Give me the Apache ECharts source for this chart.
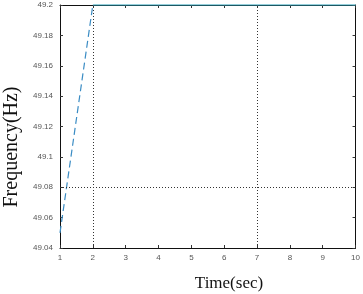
<!DOCTYPE html>
<html>
<head>
<meta charset="utf-8">
<script src="https://cdn.jsdelivr.net/npm/echarts@6/dist/echarts.min.js"></script>
<style>
  html, body { margin: 0; padding: 0; background: #fff; }
  #main { width: 363px; height: 294px; }
</style>
</head>
<body>
<div id="main"></div>
<script>
// data
var rampX = [1, 2];
var rampY = [49.05, 49.2];
var flatX = [2, 10];
var flatY = [49.2, 49.2];
var markX = [2, 7];     // dotted vertical guides
var markY = [49.08];    // dotted horizontal guide
var xTicks = [1, 2, 3, 4, 5, 6, 7, 8, 9, 10];
var yTicks = ['49.04', '49.06', '49.08', '49.1', '49.12', '49.14', '49.16', '49.18', '49.2'];

function pairs(xs, ys) {
  var out = [];
  for (var i = 0; i < xs.length; i++) out.push([xs[i], ys[i]]);
  return out;
}

var lineColor = '#3a8cc4';
var labelStyle = { color: '#555', fontSize: 8, fontFamily: 'Arial, Liberation Sans, sans-serif' };
var axisLine = { show: true, lineStyle: { color: '#111', width: 1 } };
var tick = { show: true, inside: true, length: 3, lineStyle: { color: '#333' } };

var guides = [];
markX.forEach(function (v) { guides.push({ xAxis: v }); });
markY.forEach(function (v) { guides.push({ yAxis: v }); });

var chart = echarts.init(document.getElementById('main'));
chart.setOption({
  animation: false,
  grid: { left: 60, right: 7, top: 5, bottom: 46 },
  xAxis: [
    {
      type: 'value', min: 1, max: 10, interval: 1, position: 'bottom',
      axisLine: axisLine, axisTick: tick, splitLine: { show: false },
      axisLabel: Object.assign({ margin: 6, formatter: function (v) { return xTicks.indexOf(v) >= 0 ? String(v) : ''; } }, labelStyle)
    },
    {
      type: 'value', min: 1, max: 10, interval: 1, position: 'top',
      axisLine: axisLine, axisTick: tick, splitLine: { show: false }, axisLabel: { show: false }
    }
  ],
  yAxis: [
    {
      type: 'value', min: 49.04, max: 49.2, interval: 0.02, position: 'left',
      axisLine: axisLine, axisTick: tick, splitLine: { show: false },
      axisLabel: Object.assign({ margin: 7, formatter: function (v) {
        var s = String(Math.round(v * 100) / 100);
        return yTicks.indexOf(s) >= 0 ? s : '';
      } }, labelStyle)
    },
    {
      type: 'value', min: 49.04, max: 49.2, interval: 0.02, position: 'right',
      axisLine: axisLine, axisTick: tick, splitLine: { show: false }, axisLabel: { show: false }
    }
  ],
  series: [
    {
      type: 'line', data: pairs(rampX, rampY), symbol: 'none', clip: false,
      lineStyle: { color: lineColor, width: 1.2, type: [7, 4] }
    },
    {
      type: 'line', data: pairs(flatX, flatY), symbol: 'none', clip: false, z: 5,
      lineStyle: { color: '#2a9fb8', width: 1.2 }
    },
    {
      type: 'line', data: [], symbol: 'none',
      markLine: {
        silent: true, symbol: 'none', label: { show: false },
        lineStyle: { color: '#333', width: 1, type: [1, 2] },
        data: guides
      }
    }
  ],
  graphic: [
    {
      type: 'text', x: 229, y: 284,
      style: { text: 'Time(sec)', font: '17px "Liberation Serif", serif', fill: '#111', align: 'center', verticalAlign: 'middle' }
    },
    {
      type: 'text', x: 12, y: 147, rotation: Math.PI / 2,
      style: { text: 'Frequency(Hz)', font: '20px "Liberation Serif", serif', fill: '#111', align: 'center', verticalAlign: 'middle' }
    }
  ]
});
</script>
</body>
</html>
